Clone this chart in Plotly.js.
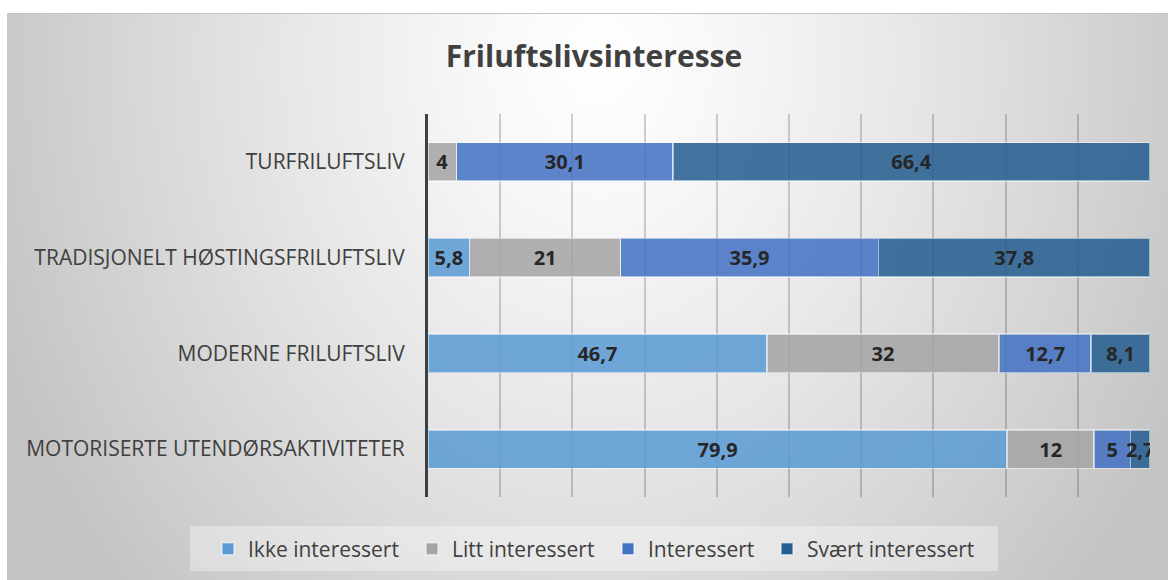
<!DOCTYPE html>
<html>
<head>
<meta charset="utf-8">
<script src="https://cdn.plot.ly/plotly-3.0.1.min.js"></script>
<style>
  html, body { margin: 0; padding: 0; background: #ffffff; }
  #wrap { position: relative; width: 1168px; height: 580px; overflow: hidden; }
  #bg {
    position: absolute; left: 7px; top: 13px; width: 1161px; height: 567px;
    border-top: 1px solid #c4c4c4;
    background: radial-gradient(ellipse 640px 780px at 593px 47px, #ffffff 0%, #f7f7f7 20%, #e6e6e6 50%, #d2d2d2 80%, #c4c4c4 100%);
  }
  #chart { position: absolute; left: 0; top: 0; width: 1168px; height: 580px; }
</style>
</head>
<body>
<div id="wrap">
  <div id="bg"></div>
  <div id="chart"></div>
</div>
<script>
// Categories, top to bottom
const categories = [
  "TURFRILUFTSLIV",
  "TRADISJONELT HØSTINGSFRILUFTSLIV",
  "MODERNE FRILUFTSLIV",
  "MOTORISERTE UTENDØRSAKTIVITETER"
];
const seriesNames = ["Ikke interessert", "Litt interessert", "Interessert", "Svært interessert"];
const ikkeInteressert  = [0,    5.8,  46.7, 79.9];
const littInteressert  = [4,    21,   32,   12];
const interessert      = [30.1, 35.9, 12.7, 5];
const svaertInteressert= [66.4, 37.8, 8.1,  2.7];
const seriesColors = ["#5b9bd5", "#a5a5a5", "#4472c4", "#255e91"];
const xTicks = [0, 10, 20, 30, 40, 50, 60, 70, 80, 90, 100];

const seriesValues = [ikkeInteressert, littInteressert, interessert, svaertInteressert];
const fmt = v => (v === 0 ? "" : String(v).replace(".", ","));
const FONT = "Open Sans, Liberation Sans, sans-serif";
const W = 1168, H = 580;

// one legend per series so the legend row can sit in a single line
const legendIds = seriesNames.map((_, i) => (i === 0 ? "legend" : "legend" + (i + 1)));
const legendLeft = [208, 412, 608, 767];

const traces = seriesValues.map((vals, i) => ({
  type: "bar",
  orientation: "h",
  name: seriesNames[i],
  legend: legendIds[i],
  x: vals,
  y: categories,
  text: vals.map(fmt),
  textposition: "inside",
  insidetextanchor: "middle",
  textangle: 0,
  constraintext: "none",
  textfont: { family: FONT, size: 20, color: "#262626", weight: "bold" },
  insidetextfont: { family: FONT, size: 20, color: "#262626", weight: "bold" },
  marker: {
    color: seriesColors[i],
    opacity: 0.86,
    line: { color: "rgba(255,255,255,0.55)", width: 1.5 }
  },
  hoverinfo: "skip"
}));

const layout = {
  width: W,
  height: H,
  paper_bgcolor: "rgba(0,0,0,0)",
  plot_bgcolor: "rgba(0,0,0,0)",
  margin: { l: 428, r: 18, t: 114, b: 83, pad: 0 },
  barmode: "stack",
  barnorm: "percent",
  bargap: 0.6,
  title: {
    text: "<b>Friluftslivsinteresse</b>",
    font: { family: FONT, size: 30, color: "#404040" },
    xref: "container", x: 594 / W, xanchor: "center",
    yref: "container", y: 1 - 56 / H, yanchor: "middle"
  },
  xaxis: {
    range: [0, 100],
    tickvals: xTicks,
    showticklabels: false,
    showgrid: true,
    gridcolor: "rgba(0,0,0,0.18)",
    gridwidth: 2,
    zeroline: false,
    showline: false,
    ticks: "",
    fixedrange: true
  },
  yaxis: {
    type: "category",
    categoryorder: "array",
    categoryarray: categories,
    autorange: "reversed",
    showline: true,
    linecolor: "#404040",
    linewidth: 3,
    showgrid: false,
    zeroline: false,
    ticks: "outside",
    ticklen: 16,
    tickcolor: "rgba(0,0,0,0)",
    tickfont: { family: FONT, size: 21, color: "#404040" },
    fixedrange: true
  },
  showlegend: true,
  shapes: [{
    type: "rect", layer: "below",
    xref: "paper", yref: "paper",
    x0: (190 - 428) / 722, x1: (998 - 428) / 722,
    y0: (497 - 571) / 383, y1: (497 - 526) / 383,
    fillcolor: "rgba(255,255,255,0.35)",
    line: { width: 0 }
  }]
};

legendIds.forEach((id, i) => {
  layout[id] = {
    orientation: "h",
    xref: "container", x: legendLeft[i] / W, xanchor: "left",
    yref: "container", y: 1 - 549 / H, yanchor: "middle",
    bgcolor: "rgba(0,0,0,0)",
    font: { family: FONT, size: 21, color: "#404040" },
    itemclick: false, itemdoubleclick: false
  };
});

Plotly.newPlot("chart", traces, layout, { staticPlot: true, displayModeBar: false });
</script>
</body>
</html>
